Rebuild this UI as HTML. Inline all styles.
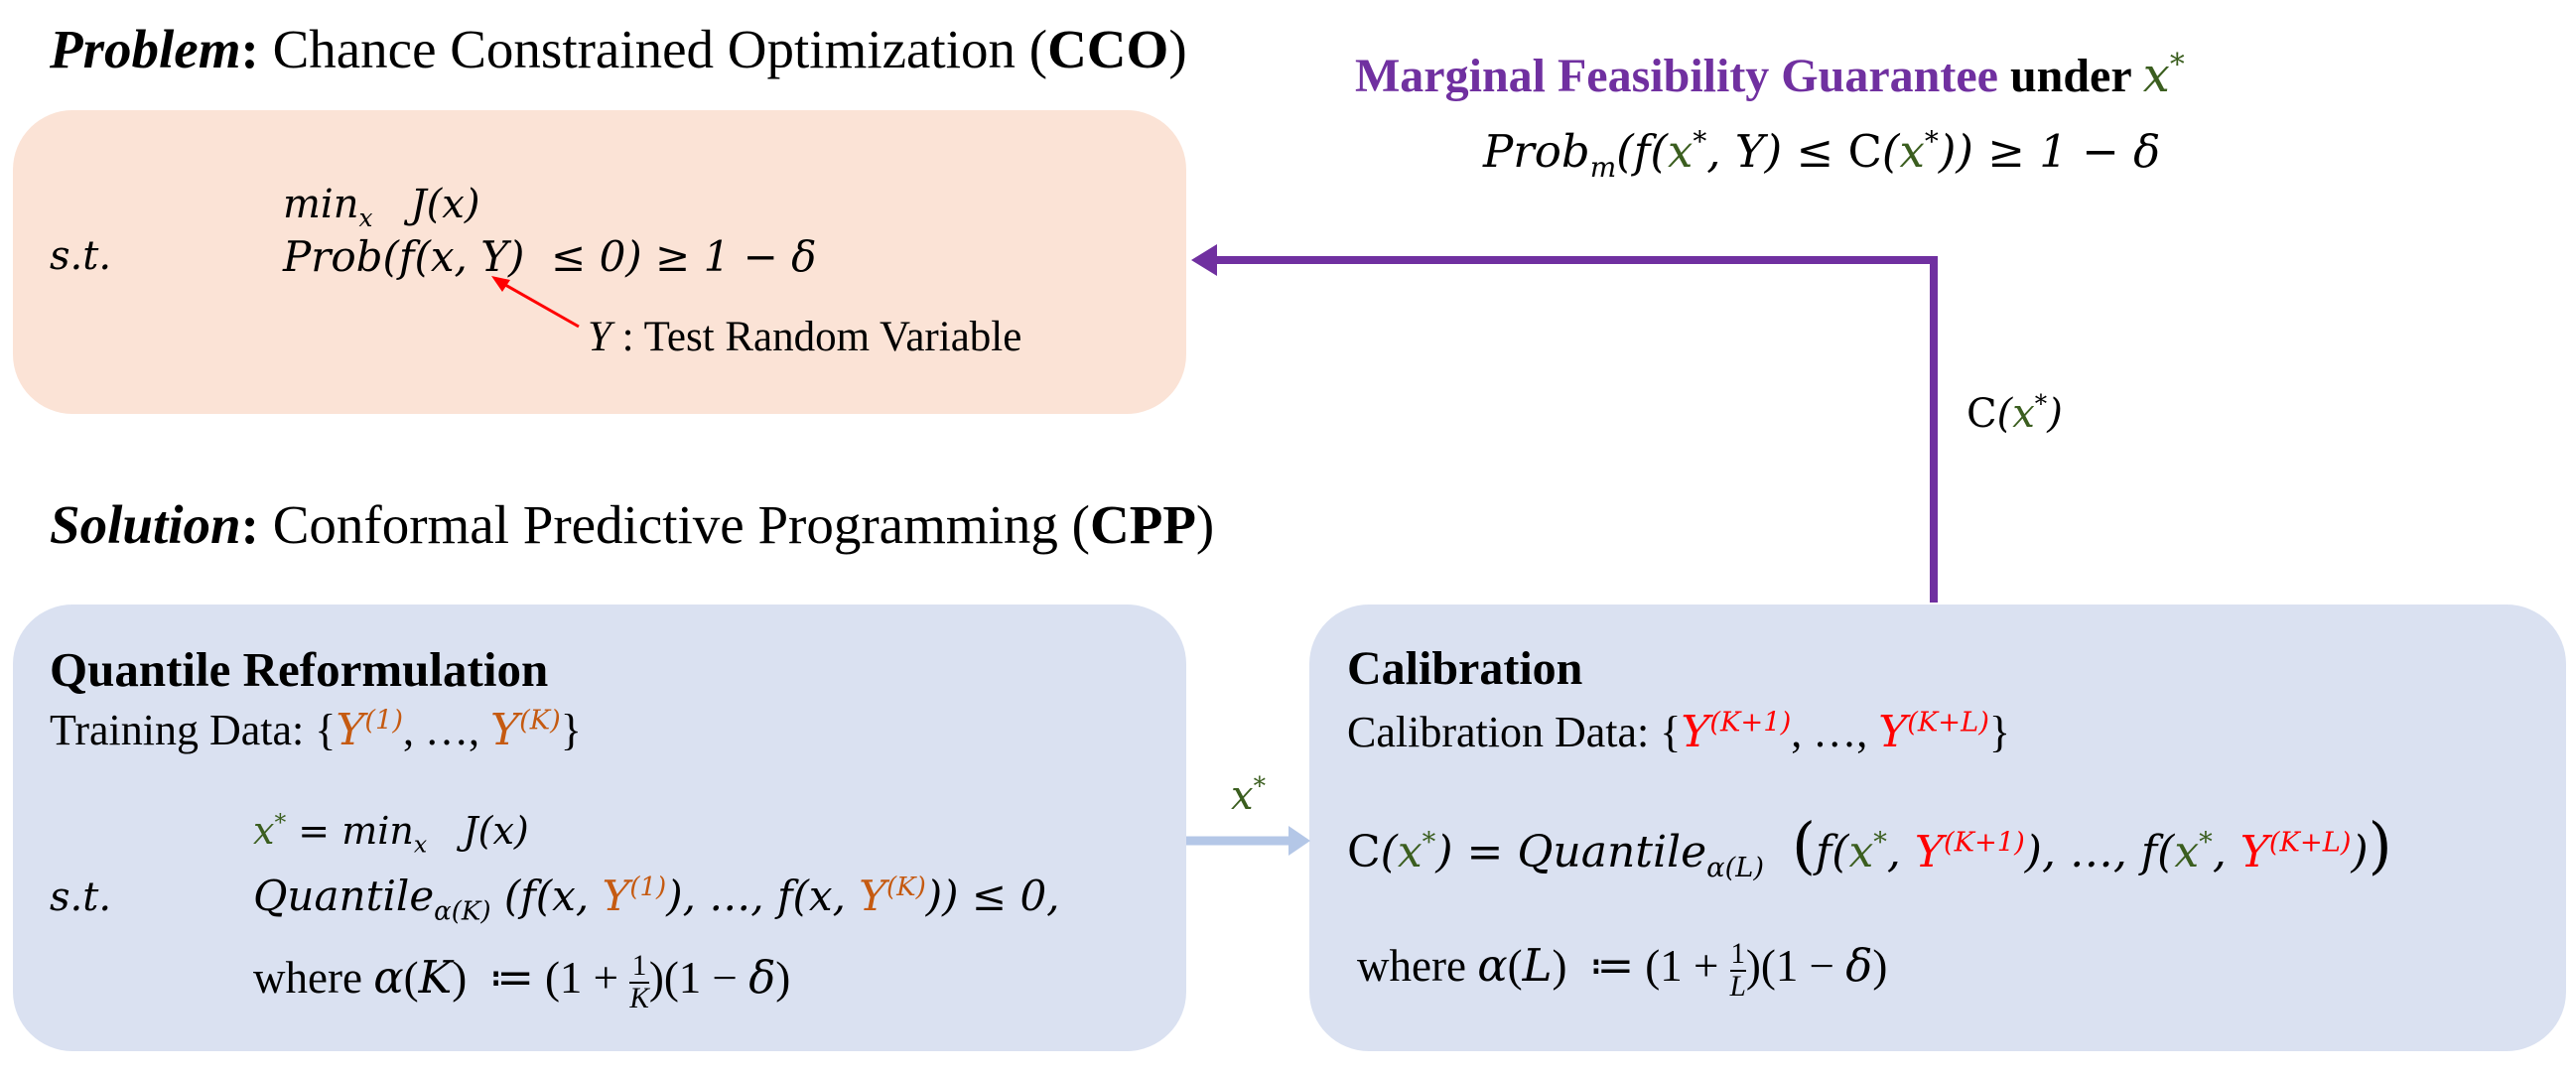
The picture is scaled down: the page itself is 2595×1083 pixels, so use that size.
<!DOCTYPE html>
<html><head><meta charset="utf-8"><style>
body{margin:0;width:2595px;height:1083px;background:#fff;position:relative;overflow:hidden;font-family:"Liberation Serif",serif;color:#000}
.t{position:absolute;white-space:nowrap;line-height:1}
.m{font-family:"DejaVu Serif",serif;font-style:italic}
.mm{font-family:"DejaVu Serif",serif}
.box{position:absolute;border-radius:60px}
.g{color:#3b5e1f;font-style:italic}
.o{color:#c55a11;font-style:italic}
.r{color:#ff0000;font-style:italic}
sup,sub{font-size:62%;line-height:0}
.fr{display:inline-block;vertical-align:middle;text-align:center;font-size:65%;line-height:1.05}
.fr span{display:block}
.fr .n{border-bottom:2px solid #000}
</style></head><body>
<div class="box" style="left:13px;top:111px;width:1182px;height:306px;background:#fbe3d6"></div>
<div class="box" style="left:13px;top:609px;width:1182px;height:450px;background:#dae1f1"></div>
<div class="box" style="left:1319px;top:609px;width:1266px;height:450px;background:#dae1f1"></div>

<svg style="position:absolute;left:0;top:0" width="2595" height="1083">
<polyline points="1948,607 1948,262 1222,262" fill="none" stroke="#7030a0" stroke-width="8"/>
<polygon points="1200,262 1226,246 1226,278" fill="#7030a0"/>
<line x1="583" y1="329" x2="502" y2="283" stroke="#ff0000" stroke-width="3"/>
<polygon points="495,278 514,282 506,294" fill="#ff0000"/>
<line x1="1195" y1="847" x2="1300" y2="847" stroke="#b4c7e7" stroke-width="9"/>
<polygon points="1320,847 1298,832 1298,862" fill="#b4c7e7"/>
</svg>

<div class="t" style="left:50px;top:22px;font-size:55px"><b><i>Problem</i>:</b> Chance Constrained Optimization (<b>CCO</b>)</div>
<div class="t" style="left:1365px;top:52px;font-size:48px;font-weight:bold"><span style="color:#7030a0">Marginal Feasibility Guarantee</span> under <span class="g m" style="font-weight:normal">x</span><sup class="g m" style="font-weight:normal">*</sup></div>
<div class="t m" style="left:1494px;top:130px;font-size:45px">Prob<sub>m</sub>(f(<span class="g">x</span><sup>*</sup>, Y) ≤ <span class="mm" style="font-style:normal">C</span>(<span class="g">x</span><sup>*</sup>)) ≥ 1 − δ</div>

<div class="t m" style="left:285px;top:186px;font-size:40px">min<sub>x</sub> &nbsp;&nbsp;J(x)</div>
<div class="t m" style="left:50px;top:238px;font-size:40px">s.t.</div>
<div class="t m" style="left:285px;top:238px;font-size:42px">Prob(f(x, Y) &nbsp;≤ 0) ≥ 1 − δ</div>
<div class="t" style="left:592px;top:318px;font-size:43px"><i>Y</i> : Test Random Variable</div>

<div class="t m" style="left:1981px;top:397px;font-size:40px"><span class="mm" style="font-style:normal">C</span>(<span class="g">x</span><sup>*</sup>)</div>

<div class="t" style="left:50px;top:501px;font-size:55px"><b><i>Solution</i>:</b> Conformal Predictive Programming (<b>CPP</b>)</div>

<div class="t" style="left:50px;top:650px;font-size:49px;font-weight:bold">Quantile Reformulation</div>
<div class="t" style="left:50px;top:714px;font-size:44px">Training Data: {<span class="o m">Y</span><sup class="o m">(1)</sup>, …, <span class="o m">Y</span><sup class="o m">(K)</sup>}</div>
<div class="t m" style="left:255px;top:818px;font-size:38px"><span class="g">x</span><sup class="g">*</sup> = min<sub>x</sub> &nbsp;&nbsp;J(x)</div>
<div class="t m" style="left:50px;top:884px;font-size:40px">s.t.</div>
<div class="t m" style="left:255px;top:882px;font-size:42px">Quantile<sub>α(K)</sub> (f(x, <span class="o">Y</span><sup class="o">(1)</sup>), …, f(x, <span class="o">Y</span><sup class="o">(K)</sup>)) ≤ 0,</div>
<div class="t" style="left:255px;top:958px;font-size:45px">where <i class="m">α</i>(<i class="m">K</i>) &nbsp;≔ (1 + <span class="fr"><span class="n">1</span><span><i>K</i></span></span>)(1 − <i class="m">δ</i>)</div>

<div class="t g m" style="left:1240px;top:782px;font-size:40px">x<sup>*</sup></div>

<div class="t" style="left:1357px;top:650px;font-size:48px;font-weight:bold">Calibration</div>
<div class="t" style="left:1357px;top:716px;font-size:44px">Calibration Data: {<span class="r m">Y</span><sup class="r m">(K+1)</sup>, …, <span class="r m">Y</span><sup class="r m">(K+L)</sup>}</div>
<div class="t m" style="left:1357px;top:822px;font-size:44px"><span class="mm" style="font-style:normal">C</span>(<span class="g">x</span><sup class="g">*</sup>) = Quantile<sub>α(L)</sub> &nbsp;<span style="font-size:140%;font-style:normal">(</span>f(<span class="g">x</span><sup class="g">*</sup>, <span class="r">Y</span><sup class="r">(K+1)</sup>), …, f(<span class="g">x</span><sup class="g">*</sup>, <span class="r">Y</span><sup class="r">(K+L)</sup>)<span style="font-size:140%;font-style:normal">)</span></div>
<div class="t" style="left:1367px;top:946px;font-size:45px">where <i class="m">α</i>(<i class="m">L</i>) &nbsp;≔ (1 + <span class="fr"><span class="n">1</span><span><i>L</i></span></span>)(1 − <i class="m">δ</i>)</div>
</body></html>
